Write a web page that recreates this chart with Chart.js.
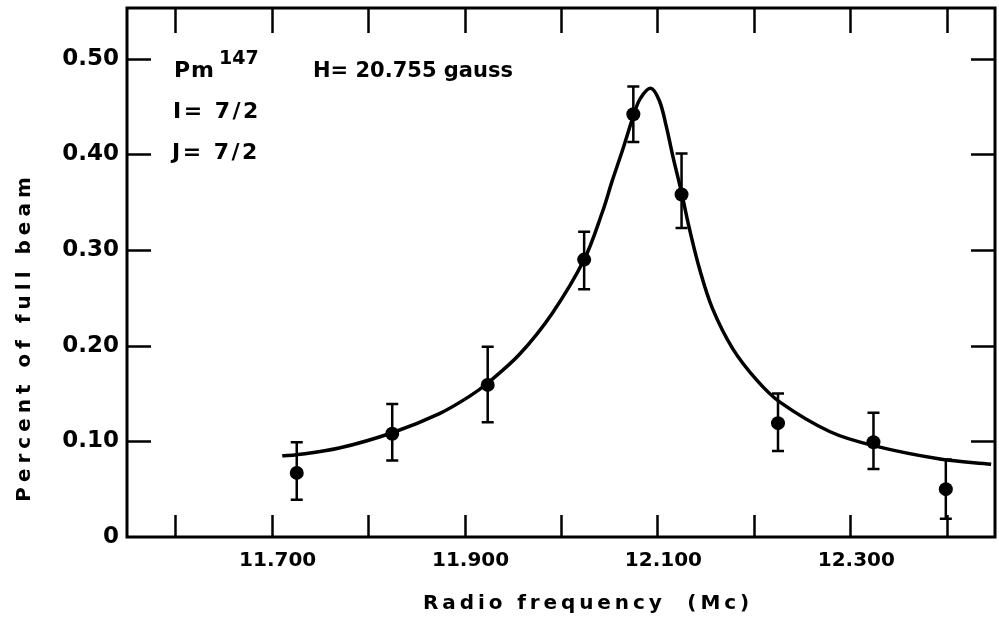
<!DOCTYPE html>
<html>
<head>
<meta charset="utf-8">
<script src="https://cdn.jsdelivr.net/npm/chart.js@4.4.1/dist/chart.umd.min.js"></script>
<style>
  html, body { margin: 0; padding: 0; background: #fff; }
  #wrap { width: 999px; height: 626px; position: relative; }
</style>
</head>
<body>
<div id="wrap"><canvas id="c" width="999" height="626"></canvas></div>
<script>
// ---- data ----
const freqPoints = [11.726, 11.825, 11.924, 12.024, 12.075, 12.125, 12.225, 12.324, 12.399];
const beamPoints = [0.067, 0.108, 0.159, 0.290, 0.442, 0.358, 0.119, 0.099, 0.050];
const errLow     = [0.039, 0.080, 0.120, 0.259, 0.413, 0.323, 0.090, 0.071, 0.019];
const errHigh    = [0.099, 0.139, 0.199, 0.319, 0.471, 0.401, 0.150, 0.130, 0.081];

const freqCurve = [11.711, 11.726, 11.770, 11.825, 11.874, 11.905, 11.924, 11.957, 11.991, 12.024,
                   12.043, 12.053, 12.064, 12.075, 12.082, 12.093, 12.102, 12.109, 12.116, 12.125,
                   12.133, 12.144, 12.157, 12.178, 12.203, 12.227, 12.279, 12.324, 12.393, 12.446];
const fitCurve  = [0.085, 0.086, 0.093, 0.109, 0.129, 0.147, 0.161, 0.191, 0.234, 0.290,
                   0.340, 0.372, 0.405, 0.440, 0.458, 0.469, 0.456, 0.430, 0.398, 0.360,
                   0.323, 0.279, 0.239, 0.197, 0.164, 0.141, 0.110, 0.0955, 0.0815, 0.076];

const xTicks = [11.6, 11.7, 11.8, 11.9, 12.0, 12.1, 12.2, 12.3, 12.4];
const xLabels = {"11.7": "11.700", "11.9": "11.900", "12.1": "12.100", "12.3": "12.300"};
const yTicks = [0, 0.1, 0.2, 0.3, 0.4, 0.5];
const yLabels = ["0", "0.10", "0.20", "0.30", "0.40", "0.50"];

const xTitle = "Radio frequency  (Mc)";
const yTitle = "Percent of full beam";

// ---- styling ----
const FONT = "'DejaVu Sans', sans-serif";

const framePlugin = {
  id: 'frame',
  afterDatasetsDraw(chart) {
    const { ctx, scales: { x, y } } = chart;
    ctx.save();
    ctx.strokeStyle = '#000';
    ctx.lineWidth = 2.5;
    const cap = 6;
    freqPoints.forEach((f, i) => {
      const px = x.getPixelForValue(f);
      const y1 = y.getPixelForValue(errLow[i]);
      const y2 = y.getPixelForValue(errHigh[i]);
      ctx.beginPath();
      ctx.moveTo(px, y1); ctx.lineTo(px, y2);
      ctx.moveTo(px - cap, y1); ctx.lineTo(px + cap, y1);
      ctx.moveTo(px - cap, y2); ctx.lineTo(px + cap, y2);
      ctx.stroke();
    });
    ctx.restore();
  },
  afterDraw(chart) {
    const { ctx, chartArea: { left, right, top, bottom }, scales: { x, y } } = chart;
    ctx.save();
    ctx.strokeStyle = '#000';
    ctx.lineWidth = 3;
    ctx.strokeRect(left, top, right - left, bottom - top);
    ctx.lineWidth = 2.5;
    ctx.beginPath();
    xTicks.forEach(v => {
      const px = Math.round(x.getPixelForValue(v)) + 0.5;
      ctx.moveTo(px, bottom); ctx.lineTo(px, bottom - 22);
      ctx.moveTo(px, top); ctx.lineTo(px, top + 25);
    });
    yTicks.forEach(v => {
      if (v === 0) return;
      const py = Math.round(y.getPixelForValue(v)) + 0.5;
      ctx.moveTo(left, py); ctx.lineTo(left + 24, py);
      ctx.moveTo(right, py); ctx.lineTo(right - 24, py);
    });
    ctx.stroke();

    ctx.fillStyle = '#000';
    ctx.textBaseline = 'alphabetic';
    ctx.textAlign = 'left';
    // annotations
    ctx.font = "bold 22px " + FONT;
    ctx.letterSpacing = "1px";
    ctx.fillText("Pm", 174, 77);
    ctx.letterSpacing = "0px";
    ctx.font = "bold 19px " + FONT;
    ctx.fillText("147", 219, 64);
    ctx.font = "bold 21px " + FONT;
    ctx.fillText("H= 20.755 gauss", 313, 77);
    ctx.font = "bold 22px " + FONT;
    ctx.letterSpacing = "2.5px";
    ctx.fillText("I= 7/2", 173, 118);
    ctx.fillText("J= 7/2", 172, 159);

    // axis titles
    ctx.font = "bold 20px " + FONT;
    ctx.textAlign = 'center';
    ctx.letterSpacing = "3.9px";
    ctx.fillText(xTitle, 588, 609);
    ctx.save();
    ctx.letterSpacing = "5px";
    ctx.translate(30, 337);
    ctx.rotate(-Math.PI / 2);
    ctx.fillText(yTitle, 0, 0);
    ctx.restore();
    ctx.letterSpacing = "0px";
    ctx.restore();
  }
};

new Chart(document.getElementById('c'), {
  type: 'scatter',
  data: {
    datasets: [
      {
        type: 'scatter',
        label: 'Measured',
        data: freqPoints.map((f, i) => ({ x: f, y: beamPoints[i] })),
        pointRadius: 7,
        pointBackgroundColor: '#000',
        pointBorderColor: '#000',
        pointBorderWidth: 0,
        order: 1
      },
      {
        type: 'line',
        label: 'Fit',
        data: freqCurve.map((f, i) => ({ x: f, y: fitCurve[i] })),
        borderColor: '#000',
        borderWidth: 3.5,
        pointRadius: 0,
        fill: false,
        tension: 0.35,
        order: 2
      }
    ]
  },
  options: {
    responsive: false,
    animation: false,
    layout: { autoPadding: false, padding: { top: 8, right: 4, left: 0, bottom: 0 } },
    plugins: { legend: { display: false }, tooltip: { enabled: false } },
    scales: {
      x: {
        type: 'linear',
        min: 11.55,
        max: 12.45,
        afterBuildTicks: s => { s.ticks = xTicks.map(v => ({ value: v })); },
        afterFit: s => { s.height = 89; s.paddingLeft = 0; s.paddingRight = 0; },
        grid: { display: false, drawTicks: false },
        border: { display: false },
        ticks: {
          autoSkip: false,
          maxRotation: 0,
          padding: 12,
          labelOffset: 6,
          color: '#000',
          font: { family: FONT, size: 20, weight: 'bold' },
          callback: v => xLabels[(Math.round(v * 10) / 10).toString()] || ''
        }
      },
      y: {
        type: 'linear',
        min: 0,
        max: 0.553,
        afterBuildTicks: s => { s.ticks = yTicks.map(v => ({ value: v })); },
        afterFit: s => { s.width = 127; s.paddingTop = 0; s.paddingBottom = 0; },
        grid: { display: false, drawTicks: false },
        border: { display: false },
        ticks: {
          autoSkip: false,
          padding: 8,
          color: '#000',
          font: { family: FONT, size: 23, weight: 'bold' },
          callback: (v, i) => yLabels[i]
        }
      }
    }
  },
  plugins: [framePlugin]
});
</script>
</body>
</html>
